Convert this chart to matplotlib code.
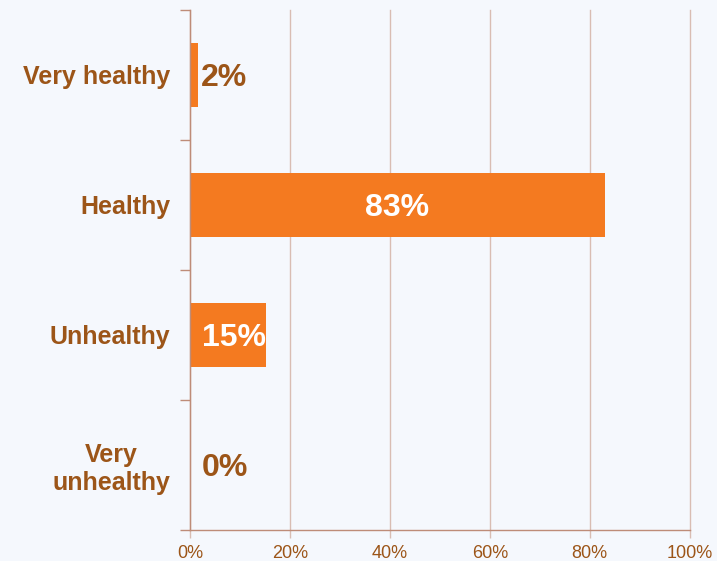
import matplotlib.pyplot as plt
import numpy as np

categories = ['Very healthy', 'Healthy', 'Unhealthy', 'Very\nunhealthy']
values = [1.6, 83, 15.2, 0]
value_labels = ['2%', '83%', '15%', '0%']
x_ticks = [0, 20, 40, 60, 80, 100]

bg = '#F5F8FD'
bar_color = '#F47A20'
text_color = '#9C5518'
axis_color = '#BE8C78'
grid_color = '#D9BDB3'

plt.rcParams['font.family'] = ['Liberation Sans', 'DejaVu Sans']

fig = plt.figure(figsize=(7.17, 5.61), dpi=100, facecolor=bg)
ax = fig.add_axes([0.265, 0.0553, 0.697, 0.9269], facecolor=bg)

y = np.arange(len(categories))
ax.barh(y, values, height=0.49, color=bar_color, zorder=3)

for i, (v, lab) in enumerate(zip(values, value_labels)):
    if v > 50:
        ax.text(v / 2, i, lab, ha='center', va='center_baseline', color='white',
                fontsize=23, fontweight='bold', zorder=4)
    elif v > 10:
        ax.text(2.4, i, lab, ha='left', va='center_baseline', color='white',
                fontsize=23, fontweight='bold', zorder=4)
    else:
        ax.text(v + 0.5 if v > 0 else 2.4, i, lab, ha='left', va='center_baseline',
                color=text_color, fontsize=23, fontweight='bold', zorder=4)

ax.set_xlim(0, 100)
ax.set_ylim(len(categories) - 0.5, -0.5)
ax.set_xticks(x_ticks)
ax.set_xticklabels([f'{t}%' for t in x_ticks], fontsize=13, color=text_color)
ax.set_yticks(y)
ax.set_yticklabels(categories, fontsize=18, fontweight='bold', color=text_color,
                   multialignment='center', va='center_baseline')
ax.set_yticks(np.arange(len(categories) + 1) - 0.5, minor=True)
ax.tick_params(axis='y', which='major', length=0, pad=14)
ax.tick_params(axis='y', which='minor', length=7, color=axis_color, width=1)
ax.tick_params(axis='x', length=6, color=grid_color, width=1, pad=5)

ax.grid(axis='x', color=grid_color, linewidth=1, zorder=0)
for line in ax.get_xgridlines():
    line.set_clip_on(False)
for s in ['top', 'right']:
    ax.spines[s].set_visible(False)
for s in ['left', 'bottom']:
    ax.spines[s].set_color(axis_color)
    ax.spines[s].set_linewidth(1)
ax.spines['left'].set_zorder(5)

fig.savefig('out.png', dpi=100, facecolor=bg)
